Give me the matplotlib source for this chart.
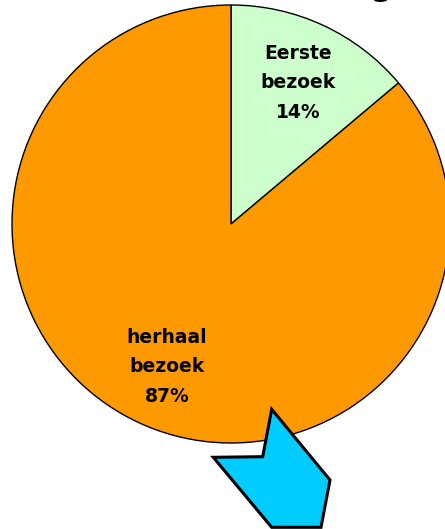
import matplotlib
matplotlib.use("Agg")
import matplotlib.pyplot as plt
from matplotlib.patches import Polygon

# data
labels = ["Eerste\nbezoek", "herhaal\nbezoek"]
shares = [14, 87]
colors = ["#ccffcc", "#ff9900"]

W, H = 445, 529
fig = plt.figure(figsize=(W / 100, H / 100), dpi=100)
ax = fig.add_axes([0, 0, 1, 1])

# pie, center / radius in pixel coords
cx, cy, r = 231, H - 224, 219
wedges, _ = ax.pie(shares, colors=colors, startangle=90, counterclock=False,
                   center=(cx, cy), radius=r, frame=True,
                   wedgeprops=dict(edgecolor="black", linewidth=1.0))
ax.set_xlim(0, W)
ax.set_ylim(0, H)
ax.set_aspect("equal")
ax.axis("off")

# labels
label_pos = [(298, H - 83), (167, H - 367)]
for lab, pct, (lx, ly) in zip(labels, shares, label_pos):
    ax.text(lx, ly, "%s\n%d%%" % (lab, pct), ha="center", va="center",
            fontsize=13.5, fontweight="bold", linespacing=1.72, color="black")

# cyan arrow shape at bottom
arrow = [(271.7, 409.3), (330, 480), (321, 527.3), (271.7, 527.3),
         (213.3, 457.3), (262.7, 456.7)]
ax.add_patch(Polygon([(x, H - y) for x, y in arrow], closed=True,
                     facecolor="#00ccff", edgecolor="black", linewidth=2.2,
                     joinstyle="miter", zorder=5))

# title cut off at the top, only the descender shows
fig.text(381 / W, 1 + 4 / H, "g", ha="center", va="baseline",
         fontsize=22, fontweight="bold")

fig.savefig("out.png", dpi=100)
